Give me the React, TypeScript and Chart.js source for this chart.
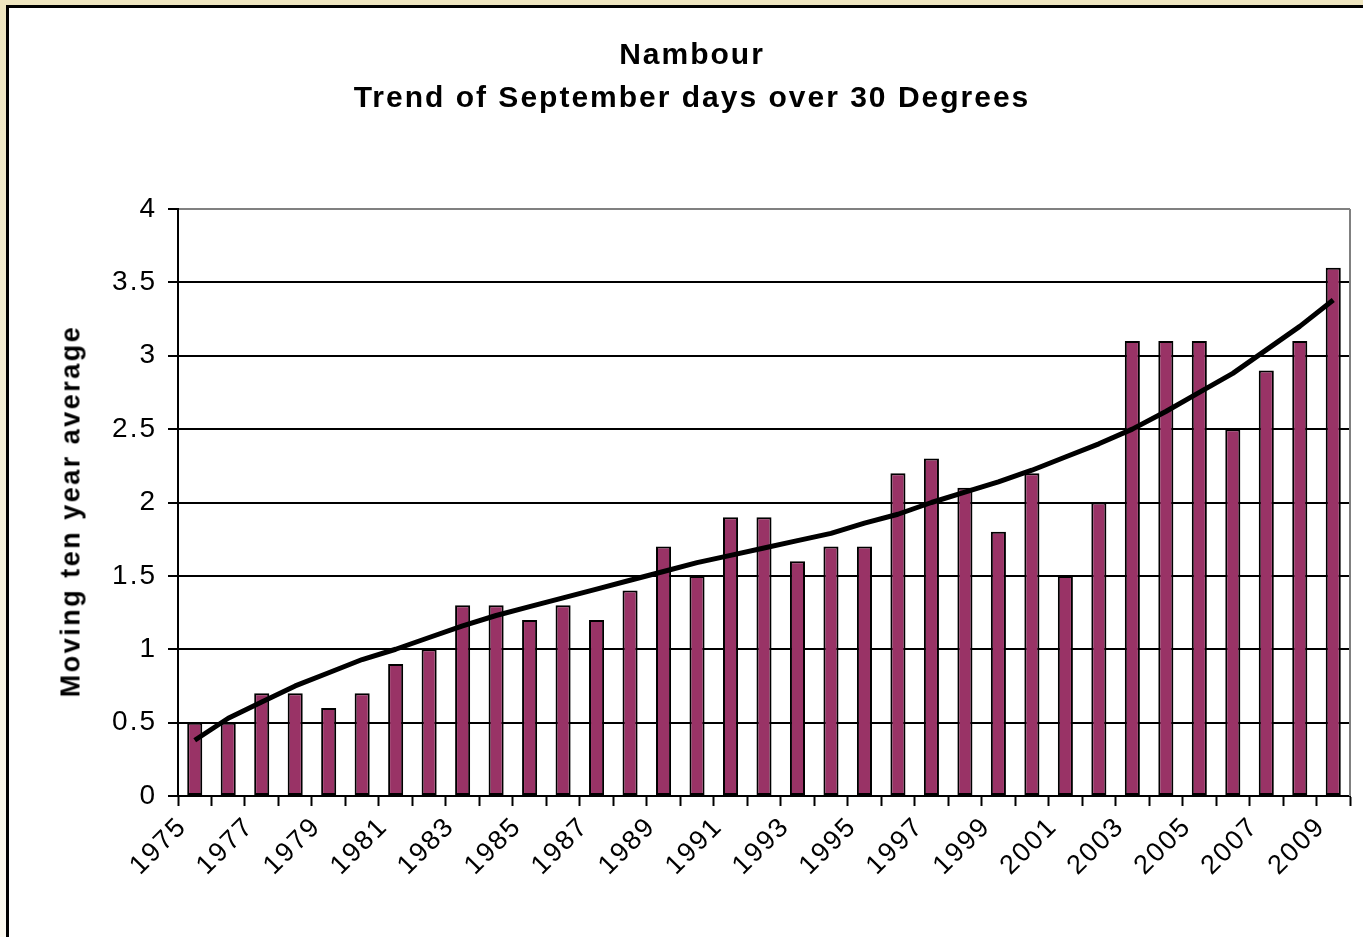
import React, { useEffect, useRef } from 'react';
import { Chart, registerables } from 'chart.js';

Chart.register(...registerables);

const titleLines = ['Nambour', 'Trend of September days over 30 Degrees'];
const yAxisTitle = 'Moving ten year average';

const years = [
  '1975', '1976', '1977', '1978', '1979', '1980', '1981', '1982', '1983', '1984',
  '1985', '1986', '1987', '1988', '1989', '1990', '1991', '1992', '1993', '1994',
  '1995', '1996', '1997', '1998', '1999', '2000', '2001', '2002', '2003', '2004',
  '2005', '2006', '2007', '2008', '2009',
];

const barValues = [
  0.5, 0.5, 0.7, 0.7, 0.6, 0.7, 0.9, 1.0, 1.3, 1.3,
  1.2, 1.3, 1.2, 1.4, 1.7, 1.5, 1.9, 1.9, 1.6, 1.7,
  1.7, 2.2, 2.3, 2.1, 1.8, 2.2, 1.5, 2.0, 3.1, 3.1,
  3.1, 2.5, 2.9, 3.1, 3.6,
];

const trendValues = [
  0.38, 0.53, 0.64, 0.75, 0.84, 0.93, 1.0, 1.08, 1.16, 1.23,
  1.29, 1.35, 1.41, 1.47, 1.53, 1.59, 1.64, 1.69, 1.74, 1.79,
  1.86, 1.92, 2.0, 2.07, 2.14, 2.22, 2.31, 2.4, 2.5, 2.62,
  2.75, 2.88, 3.04, 3.2, 3.38,
];

const yMin = 0;
const yMax = 4;
const yStep = 0.5;

const FONT = "'Liberation Sans', Arial, sans-serif";

const spacingPlugin = {
  id: 'letterSpacing',
  beforeDraw(chart: any) {
    chart.ctx.letterSpacing = '2px';
  },
  afterDraw(chart: any) {
    const { ctx, chartArea } = chart;
    ctx.save();
    ctx.strokeStyle = '#808080';
    ctx.lineWidth = 2;
    ctx.beginPath();
    ctx.moveTo(chartArea.right, chartArea.top);
    ctx.lineTo(chartArea.right, chartArea.bottom);
    ctx.stroke();
    ctx.restore();
    ctx.letterSpacing = '0px';
  },
};

export default function App() {
  const canvasRef = useRef<HTMLCanvasElement | null>(null);

  useEffect(() => {
    document.body.style.margin = '0';
    const canvas = canvasRef.current;
    if (!canvas) return;
    const chart = new Chart(canvas, {
      type: 'bar',
      data: {
        labels: years,
        datasets: [
          {
            type: 'line',
            label: 'Trend',
            data: trendValues,
            borderColor: '#000000',
            borderWidth: 5,
            pointRadius: 0,
            tension: 0,
            fill: false,
            borderJoinStyle: 'round',
            order: 0,
          } as any,
          {
            type: 'bar',
            label: 'Days',
            data: barValues,
            backgroundColor: '#993366',
            borderColor: '#000000',
            borderWidth: 2,
            borderSkipped: false,
            barPercentage: 0.45,
            categoryPercentage: 1,
            order: 1,
          },
        ],
      },
      options: {
        responsive: false,
        animation: false,
        devicePixelRatio: 1,
        layout: { padding: { left: 0, top: 209, right: 13, bottom: 0 } },
        plugins: {
          legend: { display: false },
          title: { display: false },
          tooltip: { enabled: false },
        },
        scales: {
          x: {
            offset: true,
            afterFit: (s: any) => { s.height = 141; },
            grid: {
              offset: true,
              drawOnChartArea: false,
              drawTicks: true,
              tickLength: 10,
              tickColor: '#000000',
              tickWidth: 2,
            },
            border: { color: '#000000', width: 2 },
            ticks: {
              autoSkip: false,
              minRotation: 45,
              maxRotation: 45,
              padding: 5,
              labelOffset: -12,
              color: '#000000',
              font: { family: FONT, size: 27 },
              callback: (_v: any, i: number) => (i % 2 === 0 ? years[i] : ''),
            },
          },
          y: {
            min: yMin,
            max: yMax,
            afterFit: (s: any) => { s.width = 178; },
            grid: {
              color: (c: any) => (c.tick && c.tick.value === yMax ? '#808080' : '#000000'),
              lineWidth: 2,
              drawTicks: true,
              tickLength: 10,
              tickColor: '#000000',
              tickWidth: 2,
            },
            border: { color: '#000000', width: 2 },
            ticks: {
              stepSize: yStep,
              padding: 11,
              color: '#000000',
              font: { family: FONT, size: 28 },
              callback: (v: any) => String(Number(v)),
            },
          },
        },
      },
      plugins: [spacingPlugin],
    } as any);
    return () => chart.destroy();
  }, []);

  return (
    <div
      style={{
        position: 'relative',
        width: 1363,
        height: 937,
        overflow: 'hidden',
        background: 'linear-gradient(#EEE5BF, #FBF9F0)',
      }}
    >
      <div
        style={{
          position: 'absolute',
          left: 6,
          top: 5,
          width: 1420,
          height: 1000,
          background: '#ffffff',
          borderLeft: '3px solid #000000',
          borderTop: '3px solid #000000',
        }}
      />
      <canvas
        ref={canvasRef}
        width={1363}
        height={937}
        style={{ position: 'absolute', left: 0, top: 0, width: 1363, height: 937 }}
      />
      {titleLines.map((t, i) => (
        <div
          key={i}
          style={{
            position: 'absolute',
            left: 690 - 400,
            width: 800,
            top: i === 0 ? 39 : 82,
            textAlign: 'center',
            fontFamily: FONT,
            fontWeight: 'bold',
            fontSize: 30,
            lineHeight: '30px',
            letterSpacing: '2px',
            paddingLeft: 2,
            whiteSpace: 'nowrap',
            color: '#000000',
          }}
        >
          {t}
        </div>
      ))}
      <div
        style={{
          position: 'absolute',
          left: 71,
          top: 511,
          transform: 'translate(-50%, -50%) rotate(-90deg)',
          fontFamily: FONT,
          fontWeight: 'bold',
          fontSize: 27,
          lineHeight: '27px',
          letterSpacing: '2.5px',
          whiteSpace: 'nowrap',
          color: '#000000',
        }}
      >
        {yAxisTitle}
      </div>
    </div>
  );
}
